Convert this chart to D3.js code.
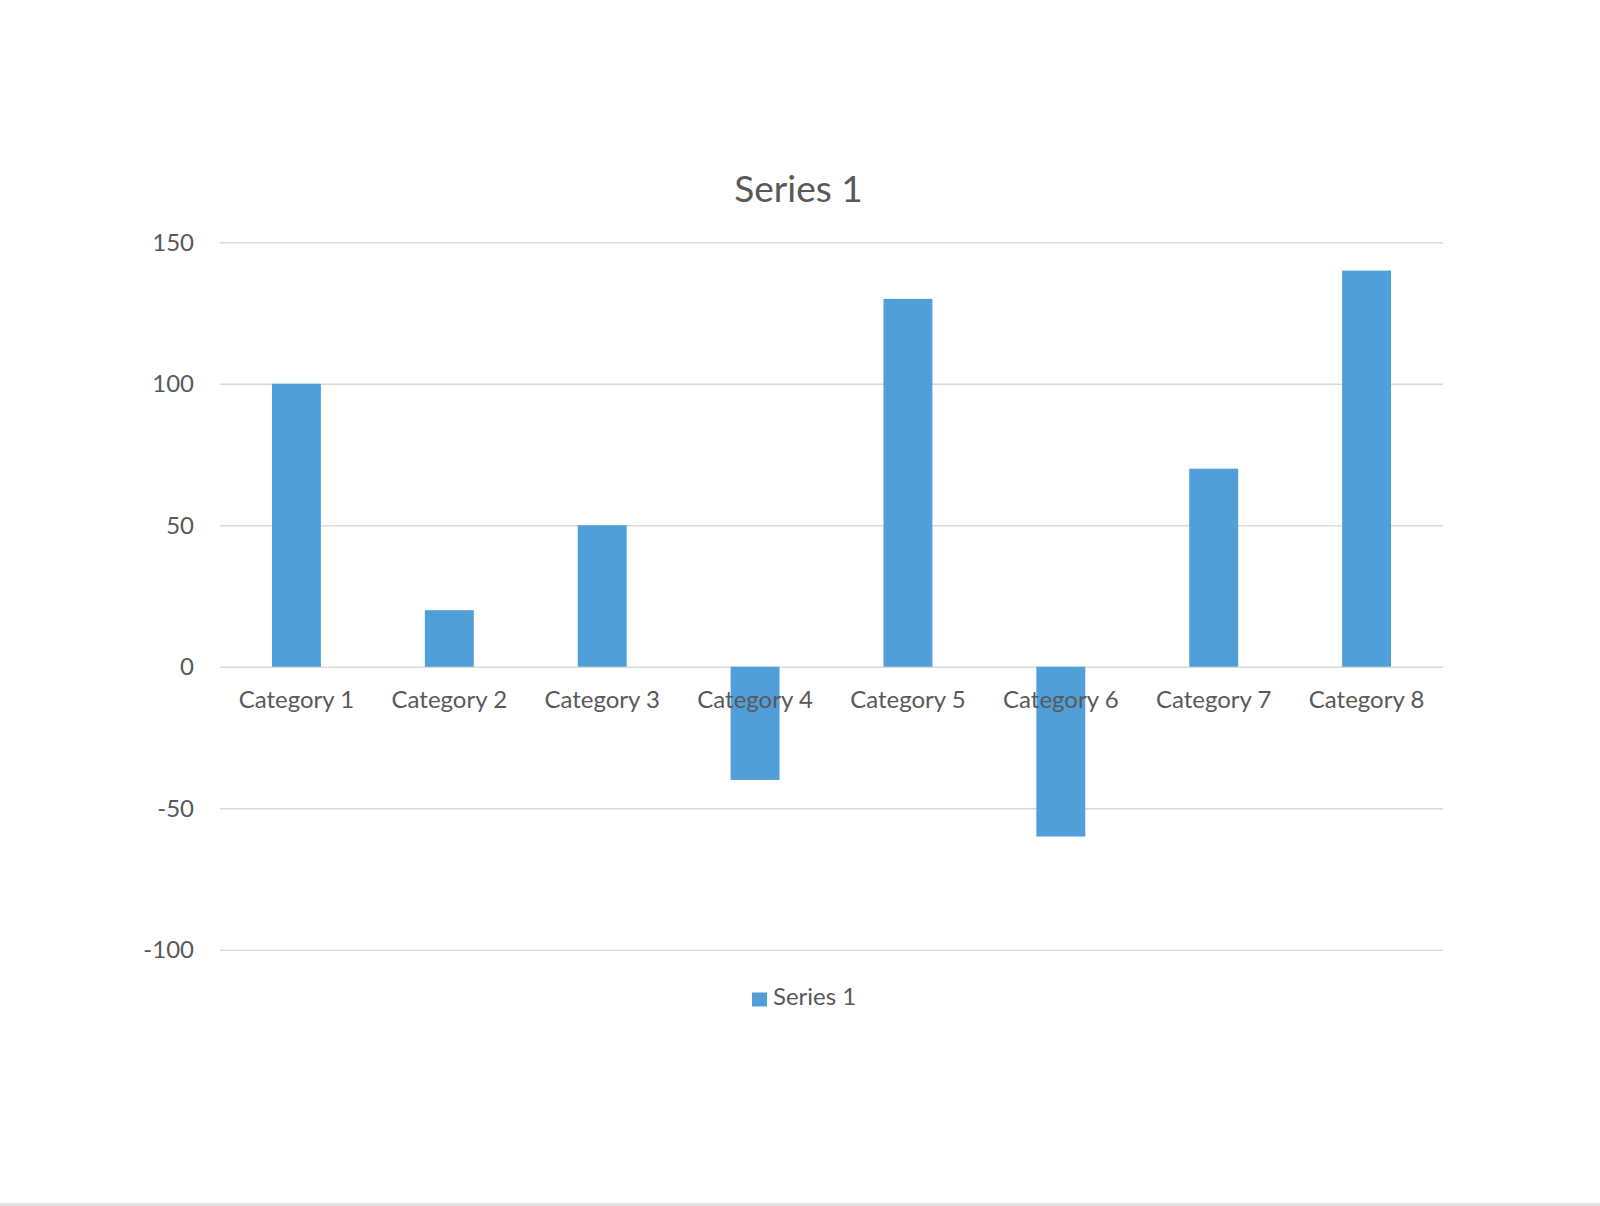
<!DOCTYPE html>
<html>
<head>
<meta charset="utf-8">
<script src="https://cdn.jsdelivr.net/npm/d3@7"></script>
<style>
    body { margin: 0; background: #fff; }
    text { font-family: Lato, "Open Sans", sans-serif; fill: #595959; }
</style>
</head>
<body>
<div id="chart"></div>
<script>
var categories = ["Category 1", "Category 2", "Category 3", "Category 4",
                  "Category 5", "Category 6", "Category 7", "Category 8"];
var seriesValues = [100, 20, 50, -40, 130, -60, 70, 140];
var yTicks = [-100, -50, 0, 50, 100, 150];
var seriesName = "Series 1";

var width = 1600, height = 1206;
var plotLeft = 220, plotRight = 1443, plotTop = 242.3, plotBottom = 949.7;
var barColor = "#519fd9";

var svg = d3.select("#chart")
    .append("svg")
    .attr("width", width)
    .attr("height", height)
    .style("display", "block");

var x = d3.scaleBand()
    .domain(categories)
    .range([plotLeft, plotRight])
    .paddingInner(0.68)
    .paddingOuter(0.34);

var y = d3.scaleLinear()
    .domain([-100, 150])
    .range([plotBottom, plotTop]);

// gridlines + y labels
var yAxis = svg.append("g")
    .attr("transform", "translate(" + plotLeft + ",0)")
    .call(d3.axisLeft(y)
        .tickValues(yTicks)
        .tickSize(-(plotRight - plotLeft))
        .tickPadding(26)
        .tickFormat(d => String(d)));
yAxis.select(".domain").remove();
yAxis.selectAll("line").attr("stroke", "#d9d9d9").attr("stroke-width", 1.5);
yAxis.selectAll("text")
    .style("font-family", "Lato, sans-serif")
    .style("font-size", "24px")
    .attr("dy", "0.33em")
    .attr("fill", "#595959");

// bars
svg.append("g")
    .selectAll("rect")
    .data(seriesValues)
    .join("rect")
    .attr("x", (d, i) => x(categories[i]))
    .attr("y", d => y(Math.max(0, d)))
    .attr("width", x.bandwidth())
    .attr("height", d => Math.abs(y(d) - y(0)))
    .attr("fill", barColor);

// category labels on the zero line
var xAxis = svg.append("g")
    .attr("transform", "translate(0," + y(0) + ")")
    .call(d3.axisBottom(x).tickSize(0).tickPadding(0));
xAxis.select(".domain").remove();
xAxis.selectAll("text")
    .attr("y", 41.6)
    .attr("dy", null)
    .style("font-family", "Lato, sans-serif")
    .style("font-size", "24px")
    .attr("fill", "#595959");

// title
svg.append("text")
    .attr("x", (plotLeft + plotRight) / 2 - 33)
    .attr("y", 201.7)
    .attr("text-anchor", "middle")
    .style("font-size", "37px")
    .text(seriesName);

// legend
var legend = svg.append("g");
legend.append("rect")
    .attr("x", 752).attr("y", 992.5)
    .attr("width", 15).attr("height", 14)
    .attr("fill", barColor);
legend.append("text")
    .attr("x", 773).attr("y", 1005)
    .style("font-size", "24px")
    .text(seriesName);

// page edge
svg.append("rect")
    .attr("x", 0).attr("y", 1203)
    .attr("width", width).attr("height", 3)
    .attr("fill", "#e3e3e3");
</script>
</body>
</html>
